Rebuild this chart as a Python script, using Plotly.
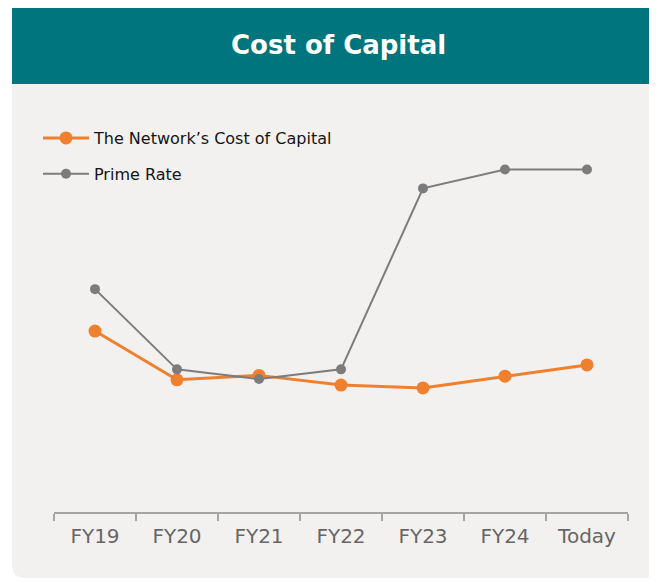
import plotly.graph_objects as go

categories = ["FY19", "FY20", "FY21", "FY22", "FY23", "FY24", "Today"]
network_cost = [4.49, 3.28, 3.39, 3.15, 3.08, 3.37, 3.65]
prime_rate = [5.53, 3.54, 3.30, 3.54, 8.03, 8.50, 8.50]

# page has an 8px body margin, so the figure is sized to fill the rest
OFF = 8
W, H = 657 - OFF, 583 - OFF
TEAL = "#00757d"
PANEL = "#f2f1ef"
ORANGE = "#f07f2e"
GRAY = "#7c7c7c"
FONT = "DejaVu Sans, sans-serif"

def px(x):
    return (x - OFF) / W

def py(y):
    return (H - (y - OFF)) / H

fig = go.Figure()

fig.add_trace(go.Scatter(
    x=categories, y=network_cost, name="The Network\u2019s Cost of Capital",
    mode="lines+markers", legendgroup="a",
    line=dict(color=ORANGE, width=3), marker=dict(color=ORANGE, size=13),
))
fig.add_trace(go.Scatter(
    x=categories, y=prime_rate, name="Prime Rate",
    mode="lines+markers", legendgroup="b",
    line=dict(color=GRAY, width=2), marker=dict(color=GRAY, size=10),
))

# panel with rounded bottom corners
x0, x1, y0, y1 = px(12), px(657), py(578), py(84)
rx, ry = 14 / W, 14 / H
panel_path = (
    f"M {x0},{y1} L {x1},{y1} L {x1},{y0 + ry} Q {x1},{y0} {x1 - rx},{y0} "
    f"L {x0 + rx},{y0} Q {x0},{y0} {x0},{y0 + ry} Z"
)

fig.update_layout(
    width=W, height=H,
    margin=dict(l=0, r=0, t=0, b=0),
    paper_bgcolor="white",
    plot_bgcolor="rgba(0,0,0,0)",
    showlegend=True,
    legend=dict(
        x=px(38), y=py(121), xanchor="left", yanchor="top",
        bgcolor="rgba(0,0,0,0)",
        font=dict(family=FONT, size=16, color="#151515"),
        traceorder="grouped", tracegroupgap=12,
        itemwidth=46,
    ),
    shapes=[
        dict(type="path", path=panel_path, xref="paper", yref="paper",
             fillcolor=PANEL, line=dict(width=0), layer="below"),
        dict(type="rect", xref="paper", yref="paper",
             x0=px(12), x1=1, y0=py(84), y1=py(6),
             fillcolor=TEAL, line=dict(width=0), layer="below"),
    ],
    annotations=[
        dict(text="<b>Cost of Capital</b>", xref="paper", yref="paper",
             x=px(338), y=py(45), xanchor="center", yanchor="middle",
             showarrow=False,
             font=dict(family=FONT, size=26, color="white")),
    ],
    xaxis=dict(
        domain=[px(54), px(628)],
        range=[-0.5, 6.5],
        type="category",
        showgrid=False, zeroline=False,
        showline=True, linecolor="#a5a5a5", linewidth=2,
        ticks="outside", tickson="boundaries", ticklen=7,
        tickcolor="#a5a5a5", tickwidth=2,
        tickfont=dict(family=FONT, size=20, color="#666666"),
        ticklabelstandoff=5,
    ),
    yaxis=dict(
        domain=[py(512), 1],
        range=[0, (512 - OFF) / 40.3],
        visible=False, showgrid=False, zeroline=False,
    ),
)

fig.write_html("out.html")
